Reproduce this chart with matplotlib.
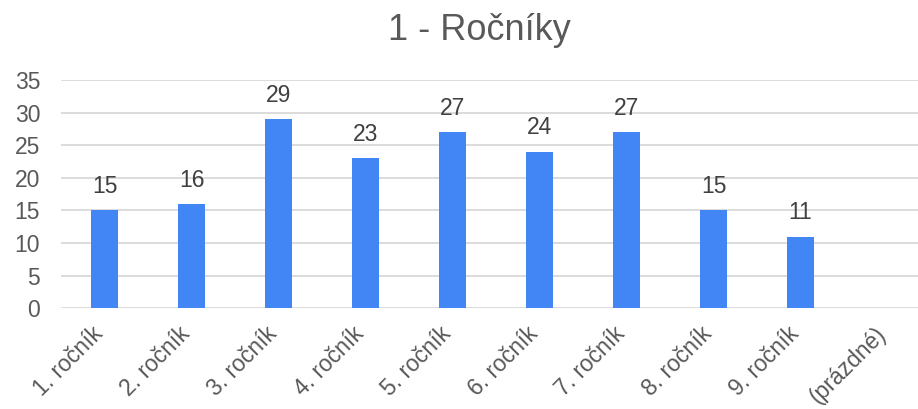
import matplotlib
matplotlib.use("Agg")
import matplotlib.pyplot as plt
import matplotlib.transforms as mtransforms
import numpy as np

plt.rcParams['font.family'] = ['Liberation Sans', 'DejaVu Sans']

categories = ["1. ročník", "2. ročník", "3. ročník", "4. ročník", "5. ročník",
              "6. ročník", "7. ročník", "8. ročník", "9. ročník", "(prázdné)"]
values = [15, 16, 29, 23, 27, 24, 27, 15, 11, None]
title = "1 - Ročníky"
yticks = [0, 5, 10, 15, 20, 25, 30, 35]

fig = plt.figure(figsize=(9.18, 4.09), dpi=100)
ax = fig.add_axes([61/918, 1-308.3/409, (918-61)/918, (308.3-80)/409])

x = np.arange(len(categories))
vals = [v if v is not None else 0 for v in values]
ax.bar(x, vals, width=0.31, color="#4285F4", zorder=3)
for xi, v in zip(x, values):
    if v is not None:
        ax.annotate(str(v), (xi, v), xytext=(0, 12.5), textcoords="offset points",
                    ha="center", va="baseline", fontsize=16.5, color="#404040")

ax.set_ylim(0, 35)
ax.set_xlim(-0.5, 9.35)
ax.set_yticks(yticks)
ax.set_yticklabels([str(t) for t in yticks], fontsize=16.5, color="#595959")
ax.set_xticks(x)
ax.set_xticklabels(categories, rotation=45, ha="right", va="center",
                   rotation_mode="anchor", fontsize=16.5, color="#595959")
ax.tick_params(axis="both", length=0)
ax.tick_params(axis="y", pad=15)
ax.tick_params(axis="x", pad=16)
shift = mtransforms.ScaledTranslation(-5/100, 0, fig.dpi_scale_trans)
for lbl in ax.get_xticklabels():
    lbl.set_transform(lbl.get_transform() + shift)
ax.grid(axis="y", color="#D9D9D9", linewidth=1.3, zorder=0)
for s in ax.spines.values():
    s.set_visible(False)

fig.text(479/918, 1-40/409, title, ha="center", va="baseline", fontsize=26, color="#595959")

fig.savefig("out.png", dpi=100)
